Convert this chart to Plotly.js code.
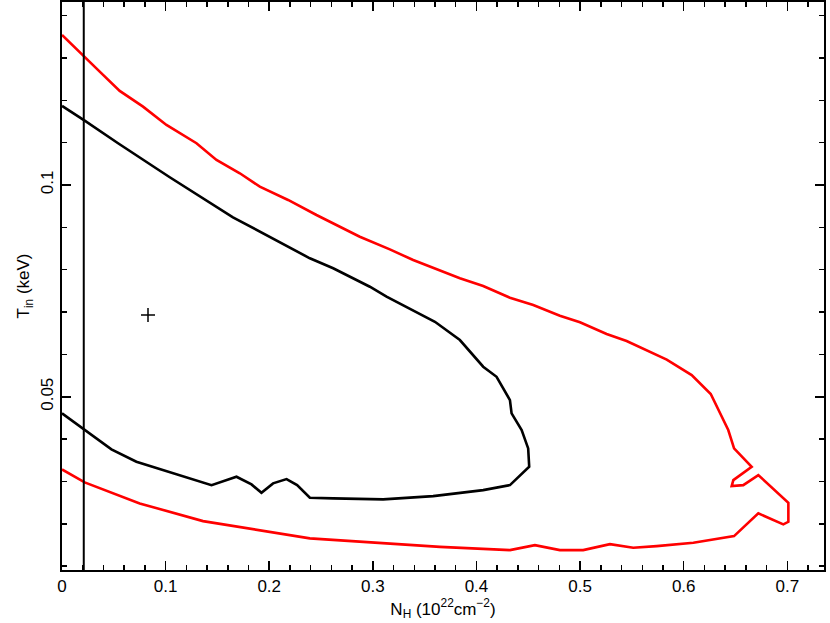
<!DOCTYPE html>
<html>
<head>
<meta charset="utf-8">
<script src="https://cdn.plot.ly/plotly-3.0.1.min.js"></script>
<style>html,body{margin:0;padding:0;background:#fff;}#chart{width:830px;height:623px;}</style>
</head>
<body>
<div id="chart"></div>
<script>
// Inner (black) confidence contour: N_H (1e22 cm^-2) and T_in (keV)
var blackNH = [0.000,0.0219,0.0541,0.104,0.165,0.2392,0.2617,0.2971,0.3132,0.3599,0.384,0.4065,0.4194,0.4323,0.4339,0.4436,0.4499,0.4509,0.4323,0.4065,0.3582,0.3099,0.2617,0.2392,0.2269,0.2167,0.2037,0.1925,0.1829,0.1684,0.1443,0.104,0.0718,0.0477,0.0219,0.000];
var blackT  = [0.11866,0.11519,0.10985,0.10182,0.09237,0.08269,0.08033,0.07598,0.07362,0.06771,0.06339,0.05709,0.05472,0.04922,0.04608,0.04214,0.03781,0.03347,0.02914,0.02796,0.02655,0.02577,0.02600,0.02615,0.02914,0.03056,0.02955,0.02733,0.02931,0.03111,0.02914,0.03221,0.03465,0.03758,0.04214,0.04608];
// Outer (red) confidence contour
var redNH = [0.000,0.0203,0.0364,0.0557,0.0782,0.1008,0.1298,0.1491,0.1716,0.1909,0.2182,0.2456,0.2617,0.2874,0.3164,0.3389,0.384,0.4065,0.4323,0.4548,0.4805,0.4999,0.5256,0.5449,0.5836,0.6077,0.6261,0.635,0.643,0.6486,0.6656,0.6479,0.6463,0.6575,0.672,0.701,0.701,0.6961,0.672,0.6486,0.6093,0.5739,0.5513,0.5288,0.503,0.4805,0.4564,0.4323,0.3647,0.2392,0.1361,0.075,0.0219,0.000];
var redT  = [0.13543,0.13047,0.12676,0.12220,0.11849,0.11417,0.10985,0.10590,0.10276,0.09960,0.09646,0.09291,0.09095,0.08779,0.08481,0.08228,0.07796,0.07615,0.07338,0.07166,0.06913,0.06757,0.06481,0.06316,0.05879,0.05512,0.05064,0.04608,0.04214,0.03781,0.03347,0.03033,0.02891,0.02914,0.03151,0.02496,0.02048,0.01986,0.02246,0.01710,0.01552,0.01474,0.01434,0.01521,0.01379,0.01379,0.01497,0.01379,0.01457,0.01656,0.02064,0.02482,0.02978,0.03285];
// Best-fit point and N_H limit line
var bestNH = [0.083];
var bestT  = [0.0693];
var nhLimit = 0.021;

var traces = [
  {x: redNH, y: redT, mode: 'lines', line: {color: '#ff0000', width: 2.6}, hoverinfo: 'skip', showlegend: false},
  {x: blackNH, y: blackT, mode: 'lines', line: {color: '#000000', width: 2.6}, hoverinfo: 'skip', showlegend: false},
  {x: bestNH, y: bestT, mode: 'markers', marker: {symbol: 'cross-thin', size: 10, color: '#000', line: {color: '#000', width: 1.5}}, hoverinfo: 'skip', showlegend: false}
];

var fontFam = 'Liberation Sans, Arial, Helvetica, sans-serif';
var layout = {
  width: 830, height: 623,
  margin: {l: 62, r: 6, t: 2, b: 53, pad: 0},
  paper_bgcolor: '#fff', plot_bgcolor: '#fff',
  font: {family: fontFam, color: '#000', size: 17},
  showlegend: false,
  xaxis: {
    range: [0, 0.7354], dtick: 0.1, tick0: 0,
    ticks: 'inside', ticklen: 9, tickwidth: 1.5, tickcolor: '#000',
    minor: {ticks: 'inside', dtick: 0.02, ticklen: 5, tickwidth: 1.5, tickcolor: '#000', showgrid: false},
    showline: true, linewidth: 2, linecolor: '#000', mirror: 'allticks',
    showgrid: false, zeroline: false,
    tickfont: {size: 17, family: fontFam},
    title: {text: 'N<sub>H</sub> (10<sup>22</sup>cm<sup>\u22122</sup>)', font: {size: 17, family: fontFam}, standoff: 6}
  },
  yaxis: {
    range: [0.0091, 0.1432], dtick: 0.05, tick0: 0,
    ticks: 'inside', ticklen: 9, tickwidth: 1.5, tickcolor: '#000',
    minor: {ticks: 'inside', dtick: 0.01, ticklen: 5, tickwidth: 1.5, tickcolor: '#000', showgrid: false},
    showline: true, linewidth: 2, linecolor: '#000', mirror: 'allticks',
    showgrid: false, zeroline: false,
    tickangle: -90,
    tickfont: {size: 17, family: fontFam},
    title: {text: 'T<sub>in</sub> (keV)', font: {size: 17, family: fontFam}, standoff: 4}
  },
  shapes: [
    {type: 'line', xref: 'x', yref: 'paper', x0: nhLimit, x1: nhLimit, y0: 0, y1: 1, line: {color: '#000', width: 2}}
  ]
};

Plotly.newPlot('chart', traces, layout, {displayModeBar: false, staticPlot: true});
</script>
</body>
</html>
